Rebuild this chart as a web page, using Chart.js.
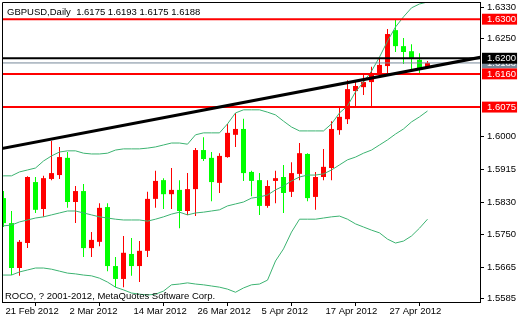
<!DOCTYPE html>
<html>
<head>
<meta charset="utf-8">
<script src="https://cdn.jsdelivr.net/npm/chart.js@4.4.0/dist/chart.umd.min.js"></script>
<style>
html,body{margin:0;padding:0;background:#ffffff;}
canvas{display:block;}
</style>
</head>
<body>
<canvas id="c" width="520" height="320"></canvas>
<script>
// ---------- data ----------
const symbolTitle = 'GBPUSD,Daily';
const copyright = 'ROCO, ? 2001-2012, MetaQuotes Software Corp.';

const dates = ['21 Feb 2012','22 Feb 2012','23 Feb 2012','24 Feb 2012','27 Feb 2012','28 Feb 2012','29 Feb 2012',
  '1 Mar 2012','2 Mar 2012','5 Mar 2012','6 Mar 2012','7 Mar 2012','8 Mar 2012','9 Mar 2012','12 Mar 2012','13 Mar 2012',
  '14 Mar 2012','15 Mar 2012','16 Mar 2012','19 Mar 2012','20 Mar 2012','21 Mar 2012','22 Mar 2012','23 Mar 2012',
  '26 Mar 2012','27 Mar 2012','28 Mar 2012','29 Mar 2012','30 Mar 2012','2 Apr 2012','3 Apr 2012','4 Apr 2012',
  '5 Apr 2012','6 Apr 2012','9 Apr 2012','10 Apr 2012','11 Apr 2012','12 Apr 2012','13 Apr 2012','16 Apr 2012',
  '17 Apr 2012','18 Apr 2012','19 Apr 2012','20 Apr 2012','23 Apr 2012','24 Apr 2012','25 Apr 2012','26 Apr 2012',
  '27 Apr 2012','30 Apr 2012','1 May 2012','2 May 2012','3 May 2012','4 May 2012'];

const tickDates = ['21 Feb 2012','2 Mar 2012','14 Mar 2012','26 Mar 2012','5 Apr 2012','17 Apr 2012','27 Apr 2012'];

const opens = [1.5842,1.5778,1.5663,1.5727,1.5883,1.5814,1.5891,1.5901,1.5945,1.5832,
  1.5860,1.5714,1.5730,1.5819,1.5668,1.5635,1.5699,1.5668,1.5707,1.5840,
  1.5888,1.5852,1.5863,1.5809,1.5865,1.5965,1.5945,1.5881,1.5947,1.6004,
  1.6019,1.5909,1.5888,1.5822,1.5886,1.5896,1.5858,1.5904,1.5955,1.5845,
  1.5896,1.5919,1.6016,1.6044,1.6116,1.6126,1.6139,1.6162,1.6180,1.6272,
  1.6231,1.6218,1.6196,1.6175];
const highs = [1.5860,1.5809,1.5735,1.5898,1.5896,1.5899,1.5988,1.5973,1.5960,1.5873,
  1.5878,1.5755,1.5829,1.5829,1.5691,1.5745,1.5740,1.5732,1.5858,1.5912,
  1.5893,1.5919,1.5888,1.5906,1.5970,1.5998,1.5960,1.5957,1.6032,1.6060,
  1.6045,1.5912,1.5906,1.5888,1.5912,1.5927,1.5934,1.5983,1.5957,1.5909,
  1.5968,1.6039,1.6075,1.6144,1.6139,1.6157,1.6178,1.6198,1.6275,1.6298,
  1.6252,1.6236,1.6213,1.6193];
const lows = [1.5768,1.5645,1.5643,1.5714,1.5804,1.5794,1.5888,1.5891,1.5817,1.5778,
  1.5691,1.5691,1.5719,1.5655,1.5614,1.5614,1.5643,1.5627,1.5691,1.5817,
  1.5814,1.5814,1.5765,1.5799,1.5796,1.5937,1.5834,1.5855,1.5945,1.5973,
  1.5886,1.5847,1.5799,1.5817,1.5829,1.5804,1.5845,1.5888,1.5834,1.5812,
  1.5888,1.5888,1.6004,1.6032,1.6078,1.6106,1.6075,1.6160,1.6162,1.6216,
  1.6185,1.6170,1.6157,1.6175];
const closes = [1.5778,1.5663,1.5730,1.5896,1.5812,1.5893,1.5906,1.5947,1.5832,1.5860,
  1.5714,1.5735,1.5817,1.5668,1.5635,1.5702,1.5668,1.5707,1.5840,1.5886,
  1.5852,1.5863,1.5809,1.5865,1.5965,1.5942,1.5883,1.5950,1.6009,1.6019,
  1.5906,1.5886,1.5822,1.5873,1.5893,1.5855,1.5906,1.5957,1.5842,1.5896,
  1.5922,1.6019,1.6050,1.6121,1.6129,1.6139,1.6162,1.6183,1.6262,1.6231,
  1.6216,1.6198,1.6175,1.6188];

// Bollinger bands (first value belongs to the bar before 21 Feb 2012)
const bandStart = -1;
const bbUpper = [1.5899,
  1.5899,1.5899,1.5909,1.5914,1.5919,1.5937,1.5950,1.5960,1.5963,1.5963,
  1.5957,1.5955,1.5955,1.5957,1.5965,1.5968,1.5968,1.5968,1.5970,1.5973,
  1.5978,1.5983,1.5983,1.5980,1.6004,1.6009,1.6009,1.6009,1.6032,1.6060,
  1.6068,1.6068,1.6068,1.6062,1.6055,1.6039,1.6024,1.6014,1.6014,1.6014,
  1.6014,1.6032,1.6060,1.6078,1.6114,1.6139,1.6167,1.6203,1.6244,1.6280,
  1.6306,1.6329,1.6339,1.6344];
const bbMiddle = [1.5771,
  1.5771,1.5773,1.5781,1.5786,1.5791,1.5794,1.5799,1.5804,1.5809,1.5809,
  1.5804,1.5799,1.5794,1.5791,1.5788,1.5786,1.5786,1.5786,1.5783,1.5788,
  1.5794,1.5801,1.5806,1.5799,1.5804,1.5806,1.5809,1.5812,1.5822,1.5827,
  1.5832,1.5842,1.5845,1.5850,1.5863,1.5873,1.5886,1.5896,1.5901,1.5901,
  1.5904,1.5914,1.5927,1.5940,1.5947,1.5957,1.5965,1.5978,1.5991,1.6006,
  1.6019,1.6037,1.6050,1.6065];
const bbLower = [1.5645,
  1.5645,1.5645,1.5653,1.5658,1.5663,1.5663,1.5660,1.5655,1.5650,1.5648,
  1.5645,1.5643,1.5637,1.5627,1.5614,1.5607,1.5599,1.5596,1.5594,1.5596,
  1.5604,1.5620,1.5622,1.5625,1.5622,1.5620,1.5617,1.5614,1.5609,1.5601,
  1.5612,1.5620,1.5622,1.5632,1.5681,1.5712,1.5755,1.5788,1.5788,1.5788,
  1.5791,1.5794,1.5796,1.5788,1.5776,1.5768,1.5760,1.5753,1.5737,1.5727,
  1.5732,1.5745,1.5765,1.5788];

// trend line anchors (bar index, price)
const trendIdx = [-1, 60];
const trendPrice = [1.5966, 1.6204];

// horizontal levels
const redLevels = [1.6300, 1.6160, 1.6075];
const blackLevels = [1.6200];
const bidPrice = closes[closes.length - 1];

// y axis tick labels
const yAxisTicks = [1.6330, 1.6250, 1.6000, 1.5915, 1.5830, 1.5750, 1.5665, 1.5585];

// ---------- layout / style ----------
const X_MIN = -0.1875, X_MAX = 59.5625;
const Y_MIN = 1.5576, Y_MAX = 1.6344;
const BULL = '#ff0000', BEAR = '#00ff00', BAND = '#3cb371', BID = '#778899';
const FONT = '"Liberation Sans", Arial, sans-serif';

const idx = dates.map((d, i) => i);
const isBull = i => closes[i] >= opens[i];
const candleColor = c => isBull(c.dataIndex) ? BULL : BEAR;

const bandData = arr => arr.map((v, k) => ({x: bandStart + k, y: v}));
const levelData = v => [{x: X_MIN, y: v}, {x: X_MAX, y: v}];

function tickKind(v) {
  if (redLevels.includes(v)) return 'red';
  if (blackLevels.includes(v)) return 'black';
  if (v === bidPrice) return 'bid';
  return 'axis';
}
const kindBg = {red: BULL, black: '#000000', bid: BID, axis: 'rgba(0,0,0,0)'};

const datasets = [];
// level lines and trend line (on top)
redLevels.forEach(v => datasets.push({type: 'line', data: levelData(v), borderColor: '#ff0000', borderWidth: 2, pointRadius: 0, order: 1, clip: 0}));
blackLevels.forEach(v => datasets.push({type: 'line', data: levelData(v), borderColor: '#000000', borderWidth: 2, pointRadius: 0, order: 1, clip: 0}));
datasets.push({type: 'line', data: levelData(bidPrice), borderColor: BID, borderWidth: 1, pointRadius: 0, order: 1, clip: 0});
datasets.push({type: 'line', data: trendIdx.map((x, k) => ({x, y: trendPrice[k]})), borderColor: '#000000', borderWidth: 3, pointRadius: 0, order: 0, clip: 0});
// bollinger bands
[bbUpper, bbMiddle, bbLower].forEach(arr => datasets.push({type: 'line', data: bandData(arr), borderColor: BAND, borderWidth: 1, pointRadius: 0, tension: 0, order: 2, clip: 0}));
// candles
datasets.push({type: 'bar', data: idx.map(i => ({x: i, y: [opens[i], closes[i]]})), backgroundColor: candleColor,
  barThickness: 5, grouped: false, borderWidth: 0, inflateAmount: 0, order: 3, clip: 0});
datasets.push({type: 'bar', data: idx.map(i => ({x: i, y: [lows[i], highs[i]]})), backgroundColor: candleColor,
  barThickness: 1, grouped: false, borderWidth: 0, inflateAmount: 0, order: 4, clip: 0});

const textPlugin = {
  id: 'mtText',
  afterDraw(chart) {
    const {ctx, chartArea: a} = chart;
    ctx.save();
    ctx.strokeStyle = '#000';
    ctx.lineWidth = 1;
    ctx.beginPath();
    ctx.moveTo(a.left + 0.5, a.bottom);
    ctx.lineTo(a.left + 0.5, a.top + 0.5);
    ctx.lineTo(a.right, a.top + 0.5);
    ctx.stroke();
    ctx.fillStyle = '#000';
    ctx.font = '9.5px ' + FONT;
    ctx.textBaseline = 'alphabetic';
    const ohlc = [opens, highs, lows, closes].map(a2 => a2[a2.length - 1].toFixed(4)).join(' ');
    ctx.fillText(symbolTitle + '  ' + ohlc, 7, 15);
    ctx.fillText(copyright, 5, 299);
    ctx.restore();
  }
};

const noPad = s => { s.paddingTop = 0; s.paddingBottom = 0; s.paddingLeft = 0; s.paddingRight = 0; };

new Chart(document.getElementById('c'), {
  type: 'bar',
  data: {datasets},
  plugins: [textPlugin],
  options: {
    responsive: false,
    animation: false,
    devicePixelRatio: 1,
    layout: {padding: {left: 2, top: 2, right: 0, bottom: 0}},
    plugins: {legend: {display: false}, tooltip: {enabled: false}, title: {display: false}},
    scales: {
      x: {
        type: 'linear', min: X_MIN, max: X_MAX, offset: false,
        afterBuildTicks: s => { s.ticks = tickDates.map(d => ({value: dates.indexOf(d)})); },
        afterFit: s => { s.height = 18; noPad(s); },
        border: {display: true, color: '#000', width: 1},
        grid: {drawOnChartArea: false, drawTicks: true, tickLength: 4, tickColor: '#000'},
        ticks: {callback: v => dates[v], align: 'start', labelOffset: 2, padding: 0, autoSkip: false, maxRotation: 0,
          color: '#000', font: {family: FONT, size: 9.5}}
      },
      y: {
        type: 'linear', position: 'right', min: Y_MIN, max: Y_MAX,
        afterBuildTicks: s => { s.ticks = [...yAxisTicks, bidPrice, ...blackLevels, ...redLevels].map(v => ({value: v})); },
        afterFit: s => { s.width = 40; noPad(s); },
        border: {display: true, color: '#000', width: 1},
        grid: {drawOnChartArea: false, drawTicks: true, tickLength: 4,
          tickColor: c => tickKind(c.tick.value) === 'axis' ? '#000' : 'rgba(0,0,0,0)'},
        ticks: {
          callback: v => v.toFixed(4), autoSkip: false, padding: 3,
          color: c => tickKind(c.tick.value) === 'axis' ? '#000' : '#fff',
          showLabelBackdrop: c => tickKind(c.tick.value) !== 'axis',
          backdropColor: c => kindBg[tickKind(c.tick.value)],
          backdropPadding: {left: 5, right: 1, top: 0, bottom: 0},
          font: {family: FONT, size: 9.5, lineHeight: 1.15}
        }
      }
    }
  }
});
</script>
</body>
</html>
